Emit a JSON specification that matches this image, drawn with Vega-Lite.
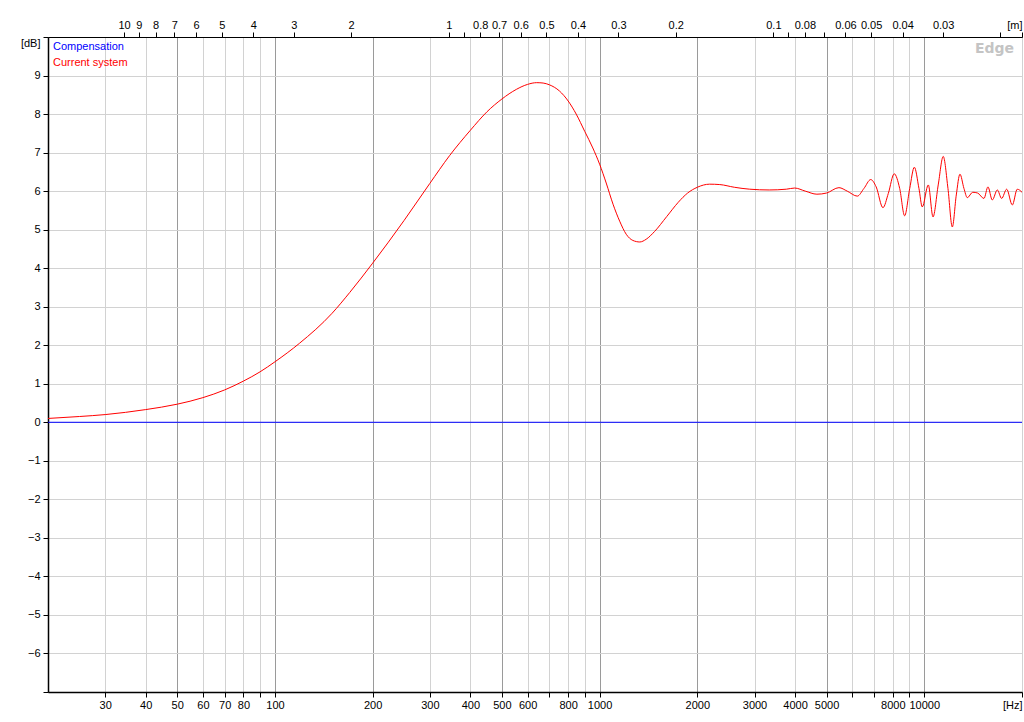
{
  "$schema": "https://vega.github.io/schema/vega-lite/v6.json",
  "width": 974,
  "height": 655,
  "autosize": {"type": "none"},
  "padding": {"left": 48, "top": 37, "right": 2, "bottom": 30},
  "background": "#ffffff",
  "title": {"text": "Edge", "anchor": "end", "frame": "group", "color": "#c4c4c4", "font": "DejaVu Sans", "fontSize": 14, "fontWeight": "bold", "dy": 41, "dx": -8},
  "config": {
    "view": {"stroke": "#222222", "strokeWidth": 1},
    "axis": {"labelFont": "Liberation Sans", "labelFontSize": 11, "labelColor": "#000000", "tickColor": "#000000", "domainColor": "#000000", "title": null, "labelFlush": false, "labelOverlap": false},
    "legend": {"labelFont": "Liberation Sans", "labelFontSize": 11}
  },
  "resolve": {"scale": {"x": "independent"}, "axis": {"x": "independent"}},
  "layer": [
    {
      "data": {"values": [
        {"series": "Compensation", "f": 20, "db": 0},
        {"series": "Compensation", "f": 20000, "db": 0},
        {"series": "Current system", "f": 20, "db": 0.1},
        {"series": "Current system", "f": 25, "db": 0.15},
        {"series": "Current system", "f": 30, "db": 0.2},
        {"series": "Current system", "f": 40, "db": 0.33},
        {"series": "Current system", "f": 50, "db": 0.47},
        {"series": "Current system", "f": 60, "db": 0.64},
        {"series": "Current system", "f": 70, "db": 0.84},
        {"series": "Current system", "f": 80, "db": 1.07},
        {"series": "Current system", "f": 90, "db": 1.31},
        {"series": "Current system", "f": 100, "db": 1.57},
        {"series": "Current system", "f": 119, "db": 2.05},
        {"series": "Current system", "f": 150, "db": 2.83},
        {"series": "Current system", "f": 170, "db": 3.37},
        {"series": "Current system", "f": 200, "db": 4.13},
        {"series": "Current system", "f": 250, "db": 5.24},
        {"series": "Current system", "f": 300, "db": 6.2},
        {"series": "Current system", "f": 345, "db": 6.92},
        {"series": "Current system", "f": 400, "db": 7.58},
        {"series": "Current system", "f": 450, "db": 8.06},
        {"series": "Current system", "f": 500, "db": 8.39},
        {"series": "Current system", "f": 554, "db": 8.64},
        {"series": "Current system", "f": 600, "db": 8.77},
        {"series": "Current system", "f": 640, "db": 8.815},
        {"series": "Current system", "f": 670, "db": 8.805},
        {"series": "Current system", "f": 700, "db": 8.76},
        {"series": "Current system", "f": 752, "db": 8.6},
        {"series": "Current system", "f": 800, "db": 8.34},
        {"series": "Current system", "f": 847, "db": 8.0},
        {"series": "Current system", "f": 900, "db": 7.55},
        {"series": "Current system", "f": 953, "db": 7.12},
        {"series": "Current system", "f": 1000, "db": 6.7},
        {"series": "Current system", "f": 1048, "db": 6.21},
        {"series": "Current system", "f": 1100, "db": 5.66},
        {"series": "Current system", "f": 1153, "db": 5.22},
        {"series": "Current system", "f": 1208, "db": 4.88},
        {"series": "Current system", "f": 1266, "db": 4.72},
        {"series": "Current system", "f": 1330, "db": 4.68},
        {"series": "Current system", "f": 1391, "db": 4.75},
        {"series": "Current system", "f": 1476, "db": 4.95},
        {"series": "Current system", "f": 1610, "db": 5.34},
        {"series": "Current system", "f": 1747, "db": 5.71},
        {"series": "Current system", "f": 1867, "db": 5.95},
        {"series": "Current system", "f": 2000, "db": 6.1},
        {"series": "Current system", "f": 2180, "db": 6.18},
        {"series": "Current system", "f": 2345, "db": 6.17},
        {"series": "Current system", "f": 2600, "db": 6.1},
        {"series": "Current system", "f": 2900, "db": 6.05},
        {"series": "Current system", "f": 3330, "db": 6.03},
        {"series": "Current system", "f": 3760, "db": 6.05},
        {"series": "Current system", "f": 3990, "db": 6.08},
        {"series": "Current system", "f": 4300, "db": 6.0},
        {"series": "Current system", "f": 4670, "db": 5.92},
        {"series": "Current system", "f": 5000, "db": 5.95},
        {"series": "Current system", "f": 5460, "db": 6.09},
        {"series": "Current system", "f": 5790, "db": 6.0},
        {"series": "Current system", "f": 6220, "db": 5.87},
        {"series": "Current system", "f": 6520, "db": 6.07},
        {"series": "Current system", "f": 6840, "db": 6.3},
        {"series": "Current system", "f": 7110, "db": 6.11},
        {"series": "Current system", "f": 7460, "db": 5.57},
        {"series": "Current system", "f": 7750, "db": 5.94},
        {"series": "Current system", "f": 8080, "db": 6.45},
        {"series": "Current system", "f": 8400, "db": 6.07},
        {"series": "Current system", "f": 8700, "db": 5.36},
        {"series": "Current system", "f": 9020, "db": 6.07},
        {"series": "Current system", "f": 9320, "db": 6.62},
        {"series": "Current system", "f": 9630, "db": 6.07},
        {"series": "Current system", "f": 9860, "db": 5.59},
        {"series": "Current system", "f": 10290, "db": 6.16},
        {"series": "Current system", "f": 10640, "db": 5.33},
        {"series": "Current system", "f": 11040, "db": 6.16},
        {"series": "Current system", "f": 11440, "db": 6.9},
        {"series": "Current system", "f": 11830, "db": 6.07},
        {"series": "Current system", "f": 12200, "db": 5.07},
        {"series": "Current system", "f": 12550, "db": 5.9},
        {"series": "Current system", "f": 12880, "db": 6.44},
        {"series": "Current system", "f": 13250, "db": 6.07},
        {"series": "Current system", "f": 13570, "db": 5.83},
        {"series": "Current system", "f": 14100, "db": 5.97},
        {"series": "Current system", "f": 14600, "db": 5.95},
        {"series": "Current system", "f": 15270, "db": 5.81},
        {"series": "Current system", "f": 15710, "db": 6.11},
        {"series": "Current system", "f": 16200, "db": 5.77},
        {"series": "Current system", "f": 16790, "db": 6.03},
        {"series": "Current system", "f": 17310, "db": 5.81},
        {"series": "Current system", "f": 17940, "db": 6.05},
        {"series": "Current system", "f": 18670, "db": 5.64},
        {"series": "Current system", "f": 19340, "db": 6.05},
        {"series": "Current system", "f": 20000, "db": 5.97}
      ]},
      "mark": {"type": "line", "strokeWidth": 1, "interpolate": "monotone", "clip": true},
      "encoding": {
        "x": {
          "field": "f", "type": "quantitative",
          "scale": {"type": "log", "domain": [20, 20000], "nice": false},
          "axis": {
            "orient": "bottom",
            "values": [30, 40, 50, 60, 70, 80, 90, 100, 200, 300, 400, 500, 600, 700, 800, 900, 1000, 2000, 3000, 4000, 5000, 6000, 7000, 8000, 9000, 10000, 20000],
            "format": "d",
            "labelExpr": "datum.value == 20000 ? '[Hz]' : (indexof([90, 700, 900, 6000, 7000, 9000], datum.value) >= 0 ? '' : datum.label)",
            "labelAlign": {"condition": {"test": "datum.value == 20000", "value": "right"}, "value": "center"},
            "grid": true,
            "gridColor": {"condition": {"test": "indexof([50, 100, 200, 500, 1000, 2000, 5000, 10000], datum.value) >= 0", "value": "#9a9a9a"}, "value": "#d2d2d2"},
            "gridWidth": 1,
            "tickSize": 5,
            "labelPadding": 2,
            "domainWidth": 1.5
          }
        },
        "y": {
          "field": "db", "type": "quantitative",
          "scale": {"domain": [-7, 10], "nice": false, "zero": false},
          "axis": {
            "values": [-7, -6, -5, -4, -3, -2, -1, 0, 1, 2, 3, 4, 5, 6, 7, 8, 9, 10],
            "labelExpr": "datum.value == 10 ? '[dB]' : (datum.value == -7 ? '' : datum.label)",
            "labelBaseline": {"condition": {"test": "datum.value == 10", "value": "top"}, "value": "middle"},
            "grid": true,
            "gridColor": "#d2d2d2",
            "tickSize": 5,
            "labelPadding": 3,
            "domainWidth": 1.5
          }
        },
        "color": {
          "field": "series", "type": "nominal",
          "scale": {"domain": ["Compensation", "Current system"], "range": ["#0000ff", "#ff0000"]},
          "legend": {
            "orient": "top-left", "offset": 2, "title": null, "padding": 2,
            "symbolSize": 0, "symbolOpacity": 0, "symbolStrokeWidth": 0, "labelOffset": -10,
            "rowPadding": 4,
            "labelColor": {"expr": "datum.label == 'Compensation' ? '#0000ff' : '#ff0000'"}
          }
        }
      }
    },
    {
      "data": {"values": [
        {"m": 10}, {"m": 9}, {"m": 8}, {"m": 7}, {"m": 6}, {"m": 5}, {"m": 4}, {"m": 3}, {"m": 2}, {"m": 1},
        {"m": 0.9}, {"m": 0.8}, {"m": 0.7}, {"m": 0.6}, {"m": 0.5}, {"m": 0.4}, {"m": 0.3}, {"m": 0.2}, {"m": 0.1},
        {"m": 0.09}, {"m": 0.08}, {"m": 0.07}, {"m": 0.06}, {"m": 0.05}, {"m": 0.04}, {"m": 0.03}, {"m": 0.02}
      ]},
      "mark": {"type": "point", "opacity": 0},
      "encoding": {
        "x": {
          "field": "m", "type": "quantitative",
          "scale": {"type": "log", "domain": [17.15, 0.01715], "nice": false},
          "axis": {
            "orient": "top",
            "values": [10, 9, 8, 7, 6, 5, 4, 3, 2, 1, 0.9, 0.8, 0.7, 0.6, 0.5, 0.4, 0.3, 0.2, 0.1, 0.09, 0.08, 0.07, 0.06, 0.05, 0.04, 0.03, 0.02, 0.01715],
            "format": "~g",
            "labelExpr": "datum.value < 0.018 ? '[m]' : (indexof([0.9, 0.09, 0.07, 0.02], datum.value) >= 0 ? '' : datum.label)",
            "labelAlign": {"condition": {"test": "datum.value < 0.018", "value": "right"}, "value": "center"},
            "grid": false,
            "tickSize": 5,
            "labelPadding": 2,
            "domainWidth": 1
          }
        }
      }
    }
  ]
}
